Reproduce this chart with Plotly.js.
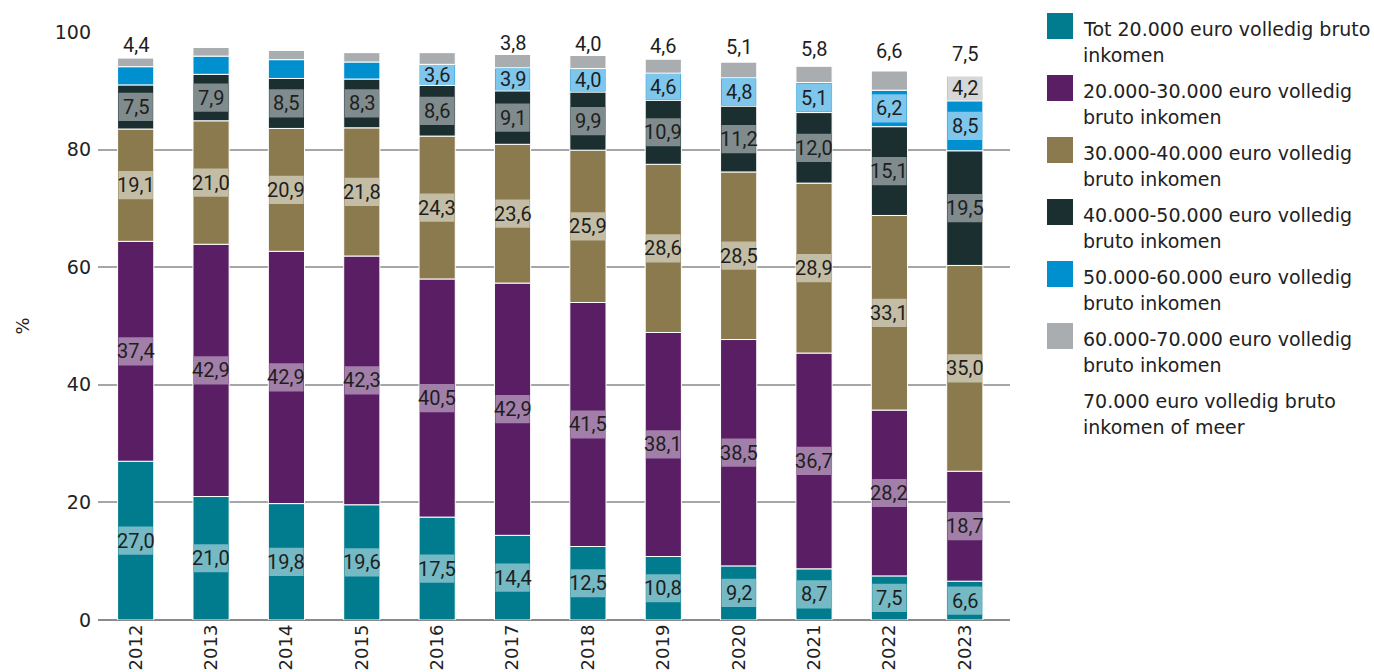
<!DOCTYPE html>
<html><head><meta charset="utf-8">
<script src="https://cdn.plot.ly/plotly-3.0.1.min.js"></script>
<style>html,body{margin:0;padding:0;background:#fff}#chart{width:1374px;height:672px}</style>
</head><body><div id="chart"></div>
<script>
const years = ['2012','2013','2014','2015','2016','2017','2018','2019','2020','2021','2022','2023'];
const tot20k   = [27.0,21.0,19.8,19.6,17.5,14.4,12.5,10.8,9.2,8.7,7.5,6.6];
const k20to30  = [37.4,42.9,42.9,42.3,40.5,42.9,41.5,38.1,38.5,36.7,28.2,18.7];
const k30to40  = [19.1,21.0,20.9,21.8,24.3,23.6,25.9,28.6,28.5,28.9,33.1,35.0];
const k40to50  = [7.5,7.9,8.5,8.3,8.6,9.1,9.9,10.9,11.2,12.0,15.1,19.5];
const k50to60  = [3.1,3.1,3.2,2.9,3.6,3.9,4.0,4.6,4.8,5.1,6.2,8.5];
const k60to70  = [1.5,1.5,1.6,1.6,2.0,2.3,2.2,2.4,2.7,2.8,3.3,4.2];
const k70plus  = [4.4,2.6,3.1,3.5,3.5,3.8,4.0,4.6,5.1,5.8,6.6,7.5];
const seriesNames = [
  ['Tot 20.000 euro volledig bruto','inkomen'],
  ['20.000-30.000 euro volledig','bruto inkomen'],
  ['30.000-40.000 euro volledig','bruto inkomen'],
  ['40.000-50.000 euro volledig','bruto inkomen'],
  ['50.000-60.000 euro volledig','bruto inkomen'],
  ['60.000-70.000 euro volledig','bruto inkomen'],
  ['70.000 euro volledig bruto','inkomen of meer']
];
const seriesValues = [tot20k,k20to30,k30to40,k40to50,k50to60,k60to70,k70plus];

const colors = ['#007C8E','#5A1E64','#8A7A4E','#1B2F31','#0090D0','#AAADB0','#FFFFFF'];
const bandColors = ['#74B9C4','#A27FA9','#C4BDA5','#7F8B8C','#7EC6EC','#D6D7D8','#FFFFFF'];

const ML = 98, MR = 364, MT = 32, MB = 52, W = 1374, H = 672;
const PW = W - ML - MR, PH = H - MT - MB;
const px2x = p => (p - ML) / PW;
const px2y = p => (H - MB - p) / PH;

const xs = years.map((_, i) => i);
const base = years.map(() => 0);
const traces = [], shapes = [], annotations = [];
const BAR_W = 0.48, BAND = 4.8;
const valFont = {family: 'Roboto, sans-serif', size: 20, color: '#1e1e1e'};

seriesValues.forEach((vals, k) => {
  const b = base.slice();
  traces.push({
    type: 'bar', x: xs, y: vals, base: b, width: BAR_W,
    name: seriesNames[k].join(' '),
    marker: {color: colors[k], line: {color: '#ffffff', width: 1}},
    hovertemplate: '%{y}<extra></extra>'
  });
  vals.forEach((v, i) => {
    if (v >= 3.55) {
      const c = b[i] + v / 2;
      const h = Math.min(v - 0.2, BAND);
      if (k < 6) shapes.push({type: 'rect', xref: 'x', yref: 'y',
        x0: i - BAR_W / 2 + 0.012, x1: i + BAR_W / 2 - 0.012, y0: c - h / 2, y1: c + h / 2,
        fillcolor: bandColors[k], line: {width: 0}, layer: 'above'});
      annotations.push({xref: 'x', yref: 'y', x: i, y: c, text: v.toFixed(1).replace('.', ','),
        showarrow: false, font: valFont});
    }
    base[i] += v;
  });
});

// custom legend
seriesNames.forEach((lines, k) => {
  const top = 13 + 62 * k;
  shapes.push({type: 'rect', xref: 'paper', yref: 'paper',
    x0: px2x(1047), x1: px2x(1073), y0: px2y(top + 26), y1: px2y(top),
    fillcolor: colors[k], line: {width: 0}});
  lines.forEach((t, j) => {
    annotations.push({xref: 'paper', yref: 'paper', x: px2x(1081), y: px2y(top + 16 + 26 * j),
      xanchor: 'left', yanchor: 'middle', text: t, showarrow: false,
      font: {family: 'DejaVu Sans, sans-serif', size: 19, color: '#222'}});
  });
});

const layout = {
  width: W, height: H,
  margin: {l: ML, r: MR, t: MT, b: MB},
  paper_bgcolor: '#fff', plot_bgcolor: '#fff',
  barmode: 'overlay', showlegend: false,
  separators: ',.',
  xaxis: {
    range: [-0.5, 11.6], tickvals: xs, ticktext: years, tickangle: -90,
    showgrid: false, zeroline: false, showline: false, ticks: '',
    tickfont: {family: 'DejaVu Sans, sans-serif', size: 18, color: '#222'}
  },
  yaxis: {
    range: [0, 100], tickvals: [0, 20, 40, 60, 80, 100],
    showgrid: true, gridcolor: '#a6a6a6', gridwidth: 2,
    zeroline: true, zerolinecolor: '#8a8a8a', zerolinewidth: 2,
    showline: false, ticks: '', ticklabelstandoff: 6,
    tickfont: {family: 'DejaVu Sans, sans-serif', size: 19, color: '#222'},
    title: {text: '%', standoff: 20, font: {family: 'DejaVu Sans, sans-serif', size: 18, color: '#222'}}
  },
  shapes: shapes,
  annotations: annotations
};

Plotly.newPlot('chart', traces, layout, {displayModeBar: false, staticPlot: true});
</script>
</body></html>
